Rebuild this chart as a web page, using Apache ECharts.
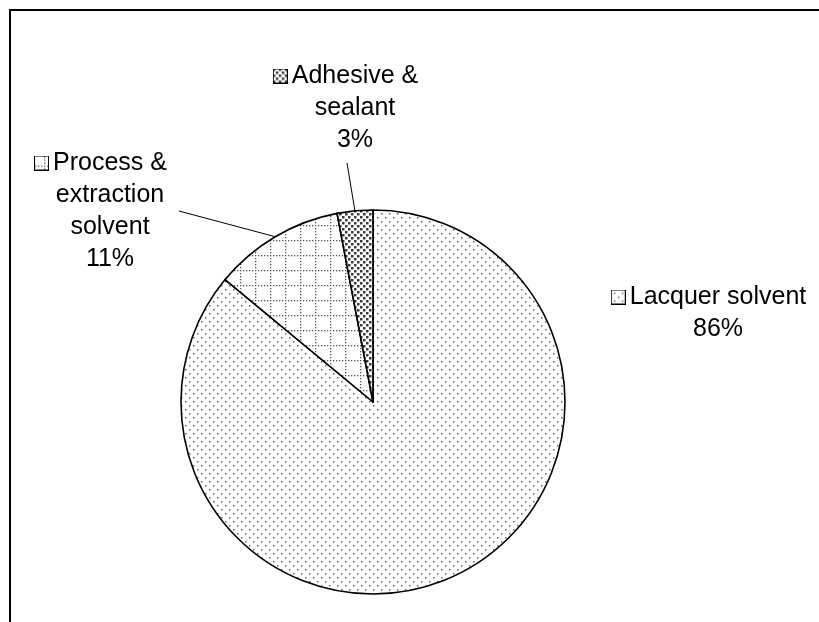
<!DOCTYPE html>
<html><head><meta charset="utf-8">
<script src="https://cdn.jsdelivr.net/npm/echarts@6/dist/echarts.min.js"></script>
<style>html,body{margin:0;padding:0;background:#fff}#c{width:819px;height:622px}</style>
</head><body><div id="c"></div>
<script>
// ---- data ----
const categories = ['Lacquer solvent', 'Process &\nextraction\nsolvent', 'Adhesive &\nsealant'];
const values = [86, 11, 3];
const percentLabels = ['86%', '11%', '3%'];
const patternKinds = ['dots', 'grid', 'dense'];

// ---- patterns ----
function makeTile(kind) {
  const c = document.createElement('canvas');
  let s;
  if (kind === 'dots') s = 8; else if (kind === 'grid') s = 15; else s = 6;
  c.width = s; c.height = s;
  const g = c.getContext('2d');
  g.fillStyle = '#fff'; g.fillRect(0, 0, s, s);
  if (kind === 'dots') {
    g.fillStyle = '#666';
    g.fillRect(1, 1, 1.5, 1.5); g.fillRect(5, 5, 1.5, 1.5);
  } else if (kind === 'grid') {
    g.fillStyle = '#555';
    for (let i = 0; i < 5; i++) g.fillRect(i * 3, 0, 1.3, 1.3);
    for (let j = 1; j < 5; j++) g.fillRect(0, j * 3, 1.3, 1.3);
  } else {
    g.fillStyle = '#3a3a3a';
    g.fillRect(0, 0, 2.5, 2.5); g.fillRect(3, 3, 2.5, 2.5);
  }
  return c;
}
function makeIcon(kind) {
  const c = document.createElement('canvas');
  c.width = 15; c.height = 15;
  const g = c.getContext('2d');
  g.fillStyle = '#fff'; g.fillRect(0, 0, 15, 15);
  g.save();
  if (kind === 'grid') g.translate(10, 10); else if (kind === 'dots') g.translate(2, 2);
  g.fillStyle = g.createPattern(makeTile(kind), 'repeat');
  g.fillRect(-20, -20, 40, 40);
  g.restore();
  g.strokeStyle = '#000'; g.lineWidth = 1;
  g.strokeRect(0.5, 0.5, 14, 14);
  return c.toDataURL();
}

const rich = {
  gap: { width: 4 },
  pad: { width: 19 }
};
patternKinds.forEach((k, i) => {
  rich['icon' + i] = { width: 15, height: 15, backgroundColor: { image: makeIcon(k) }, verticalAlign: 'middle' };
});

const labelPos = [[718, 313], [110, 211], [355, 108]];

const chart = echarts.init(document.getElementById('c'));
chart.setOption({
  animation: false,
  backgroundColor: '#fff',
  graphic: [{
    type: 'polyline', silent: true,
    shape: { points: [[10, 622], [10, 10], [819, 10]] },
    style: { stroke: '#000', lineWidth: 2, fill: null }
  }],
  series: [{
    type: 'pie',
    center: [373, 402],
    radius: 192,
    startAngle: 90,
    clockwise: true,
    avoidLabelOverlap: false,
    itemStyle: { borderColor: '#000', borderWidth: 1.6 },
    emphasis: { disabled: true },
    label: {
      show: true,
      position: 'outside',
      color: '#000',
      fontFamily: 'Liberation Sans, Arial, sans-serif',
      fontSize: 25,
      lineHeight: 32,
      align: 'center',
      formatter: function (p) {
        const lines = p.name.split('\n');
        const first = '{icon' + p.dataIndex + '|}{gap|}' + lines[0] + '{pad|}';
        return [first].concat(lines.slice(1)).concat([percentLabels[p.dataIndex]]).join('\n');
      },
      rich: rich
    },
    labelLine: { show: true, lineStyle: { color: '#000', width: 1 } },
    labelLayout: function (params) {
      const i = params.dataIndex;
      const x = labelPos[i][0], y = labelPos[i][1];
      const w = params.labelRect.width, h = params.labelRect.height;
      const res = { x: x, y: y, align: 'center', verticalAlign: 'middle' };
      const p0 = params.labelLinePoints ? params.labelLinePoints[0] : null;
      if (p0 && i === 1) res.labelLinePoints = [p0, [x + w / 2 - 7, y]];
      if (p0 && i === 2) res.labelLinePoints = [p0, [x - 8, y + h / 2 + 7]];
      return res;
    },
    data: categories.map((name, i) => ({
      name: name,
      value: values[i],
      itemStyle: { color: { image: makeTile(patternKinds[i]), repeat: 'repeat' } },
      labelLine: { show: i !== 0 }
    }))
  }]
});
</script></body></html>
